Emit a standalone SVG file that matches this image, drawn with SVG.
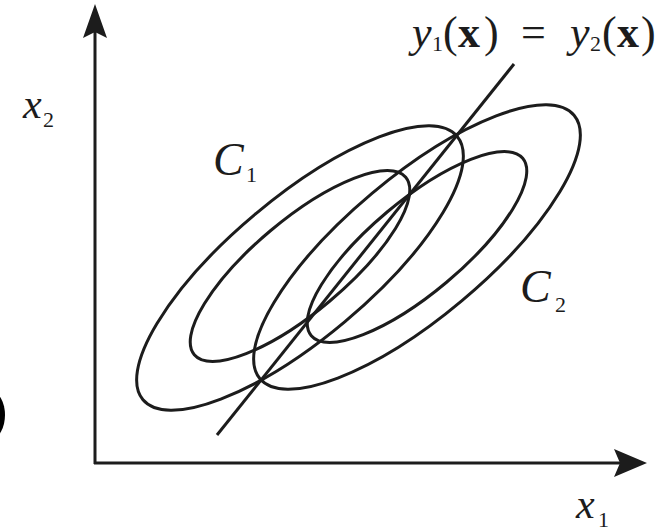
<svg xmlns="http://www.w3.org/2000/svg" width="667" height="531" viewBox="0 0 667 531">
<style>
.curve{fill:none;stroke:#1c1c1c;stroke-width:3}
.axis{fill:none;stroke:#1c1c1c;stroke-width:3}
.head{fill:#1c1c1c;stroke:none}
.t{font-family:"Liberation Serif","Times New Roman",serif;fill:#1c1c1c}
.i{font-style:italic}
.b{font-weight:bold}
</style>
<rect width="667" height="531" fill="#ffffff"/>
<ellipse cx="-8" cy="415" rx="13" ry="23" fill="#000"/>
<g id="axes">
<line class="axis" x1="95" y1="464" x2="95" y2="30"/>
<path class="head" d="M95,4 L107,38 L95,32 L83,38 Z"/>
<line class="axis" x1="94" y1="463" x2="622" y2="463"/>
<path class="head" d="M647,463 L614,449 L620,463 L614,477 Z"/>
</g>
<g id="C1-contours">
<ellipse class="curve" cx="300" cy="268" rx="205" ry="70" transform="rotate(-40 300 268)"/>
<ellipse class="curve" cx="300" cy="266" rx="138" ry="46" transform="rotate(-40 300 266)"/>
</g>
<g id="C2-contours">
<ellipse class="curve" cx="417" cy="247" rx="205" ry="70" transform="rotate(-40 417 247)"/>
<ellipse class="curve" cx="417" cy="247" rx="138" ry="46" transform="rotate(-40 417 247)"/>
</g>
<g id="boundary">
<line class="curve" x1="217" y1="435" x2="514" y2="64" stroke-width="3.5"/>
</g>
<g id="labels">
<text class="t i" x="23" y="118" font-size="42">x</text>
<text class="t" x="43" y="127" font-size="22">2</text>
<text class="t i" x="213" y="175" font-size="46">C</text>
<text class="t" x="246" y="182" font-size="22">1</text>
<text class="t i" x="520" y="302" font-size="46">C</text>
<text class="t" x="555" y="312" font-size="22">2</text>
<text class="t i" x="576" y="518" font-size="42">x</text>
<text class="t" x="598" y="527" font-size="22">1</text>
<text class="t i" x="412" y="47" font-size="44">y</text>
<text class="t" x="432" y="51" font-size="22">1</text>
<text class="t" x="443" y="47" font-size="44">(</text>
<text class="t b" x="458" y="47" font-size="44">x</text>
<text class="t" x="484" y="47" font-size="44">)</text>
<text class="t" x="521" y="47" font-size="44">=</text>
<text class="t i" x="570" y="47" font-size="44">y</text>
<text class="t" x="590" y="51" font-size="22">2</text>
<text class="t" x="602" y="47" font-size="44">(</text>
<text class="t b" x="617" y="47" font-size="44">x</text>
<text class="t" x="641" y="47" font-size="44">)</text>
</g>
</svg>
